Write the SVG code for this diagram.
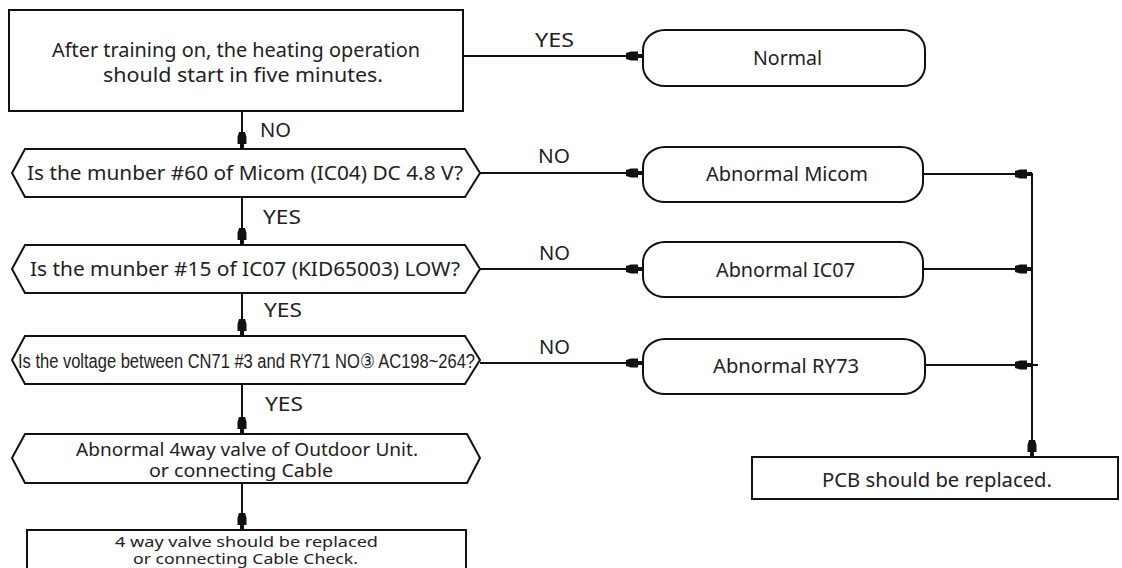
<svg xmlns="http://www.w3.org/2000/svg" width="1122" height="568" viewBox="0 0 1122 568">
<style>
.s{fill:#fff;stroke:#111;stroke-width:2}
.t{font-family:"Noto Sans","DejaVu Sans",sans-serif;font-size:19px;fill:#222}
.h{font-family:"Noto Sans","DejaVu Sans",sans-serif;font-size:18px;fill:#222}
.n{font-family:"Liberation Sans",Arial,sans-serif;font-size:20px;fill:#222}
.sm{font-family:"Noto Sans","DejaVu Sans",sans-serif;font-size:15px;fill:#222}
.c{fill:none;stroke:#111;stroke-width:2}
</style>
<defs>
<marker id="a" markerUnits="userSpaceOnUse" viewBox="-18 -6 19 12" refX="0" refY="0" markerWidth="19" markerHeight="12" orient="auto">
<path d="M-17,-3 L-12,-4.5 L-5,-4.5 L-5,-2 L0,-2 L0,2 L-5,2 L-5,4.5 L-12,4.5 L-17,3 Z" fill="#111"/>
</marker>
</defs>
<rect width="1122" height="568" fill="#fff"/>
<g id="connectors">
<line class="c" x1="242" y1="111" x2="242" y2="149" marker-end="url(#a)"/>
<line class="c" x1="463" y1="56" x2="643" y2="56" marker-end="url(#a)"/>
<line class="c" x1="480" y1="173" x2="643" y2="173" marker-end="url(#a)"/>
<line class="c" x1="242" y1="197" x2="242" y2="245" marker-end="url(#a)"/>
<line class="c" x1="480" y1="269" x2="643" y2="269" marker-end="url(#a)"/>
<line class="c" x1="242" y1="293" x2="242" y2="336" marker-end="url(#a)"/>
<line class="c" x1="480" y1="363" x2="643" y2="363" marker-end="url(#a)"/>
<line class="c" x1="242" y1="384" x2="242" y2="434" marker-end="url(#a)"/>
<line class="c" x1="242" y1="483" x2="242" y2="530" marker-end="url(#a)"/>
<line class="c" x1="923" y1="174" x2="1032" y2="174" marker-end="url(#a)"/>
<line class="c" x1="923" y1="269" x2="1032" y2="269" marker-end="url(#a)"/>
<line class="c" x1="925" y1="365" x2="1032" y2="365" marker-end="url(#a)"/>
<line class="c" x1="1032" y1="365" x2="1038" y2="365"/>
<line class="c" x1="1032" y1="173" x2="1032" y2="457" marker-end="url(#a)"/>
<text class="t" x="260" y="137" textLength="31" lengthAdjust="spacingAndGlyphs">NO</text>
<text class="t" x="535" y="47" textLength="39" lengthAdjust="spacingAndGlyphs">YES</text>
<text class="t" x="538" y="163" textLength="32" lengthAdjust="spacingAndGlyphs">NO</text>
<text class="t" x="263" y="224" textLength="38" lengthAdjust="spacingAndGlyphs">YES</text>
<text class="t" x="539" y="260" textLength="31" lengthAdjust="spacingAndGlyphs">NO</text>
<text class="t" x="264" y="317" textLength="38" lengthAdjust="spacingAndGlyphs">YES</text>
<text class="t" x="539" y="354" textLength="31" lengthAdjust="spacingAndGlyphs">NO</text>
<text class="t" x="265" y="411" textLength="38" lengthAdjust="spacingAndGlyphs">YES</text>
</g>
<g id="start">
<rect class="s" x="9" y="10" width="454" height="101"/>
<text class="t" x="52" y="57" textLength="368" lengthAdjust="spacingAndGlyphs">After training on, the heating operation</text>
<text class="t" x="103" y="82" textLength="280" lengthAdjust="spacingAndGlyphs">should start in five minutes.</text>
</g>
<g id="normal">
<rect class="s" x="643" y="30" width="282" height="56" rx="22" ry="20"/>
<text class="t" x="753" y="65" textLength="69" lengthAdjust="spacingAndGlyphs">Normal</text>
</g>
<g id="q1">
<polygon class="s" points="25,149 465,149 480,173 465,197 25,197 12,173"/>
<text class="t" x="27" y="180" textLength="436" lengthAdjust="spacingAndGlyphs">Is the munber #60 of Micom (IC04) DC 4.8 V?</text>
</g>
<g id="micom">
<rect class="s" x="643" y="147" width="280" height="55" rx="22" ry="20"/>
<text class="t" x="706" y="181" textLength="162" lengthAdjust="spacingAndGlyphs">Abnormal Micom</text>
</g>
<g id="q2">
<polygon class="s" points="25,245 465,245 480,269 465,293 25,293 12,269"/>
<text class="t" x="30" y="276" textLength="430" lengthAdjust="spacingAndGlyphs">Is the munber #15 of IC07 (KID65003) LOW?</text>
</g>
<g id="ic07">
<rect class="s" x="643" y="242" width="280" height="55" rx="22" ry="20"/>
<text class="t" x="716" y="277" textLength="139" lengthAdjust="spacingAndGlyphs">Abnormal IC07</text>
</g>
<g id="q3">
<polygon class="s" points="25,336 465,336 480,360 465,384 25,384 12,360"/>
<text class="n" x="18" y="368" textLength="457" lengthAdjust="spacingAndGlyphs">Is the voltage between CN71 #3 and RY71 NO③ AC198~264?</text>
</g>
<g id="ry73">
<rect class="s" x="643" y="339" width="282" height="55" rx="22" ry="20"/>
<text class="t" x="713" y="373" textLength="146" lengthAdjust="spacingAndGlyphs">Abnormal RY73</text>
</g>
<g id="q4">
<polygon class="s" points="25,434 467,434 480,458 467,483 25,483 12,458"/>
<text class="h" x="76" y="456" textLength="342" lengthAdjust="spacingAndGlyphs">Abnormal 4way valve of Outdoor Unit.</text>
<text class="h" x="149" y="477" textLength="184" lengthAdjust="spacingAndGlyphs">or connecting Cable</text>
</g>
<g id="valve">
<rect class="s" x="27" y="530" width="439" height="50"/>
<text class="sm" x="115" y="547" textLength="263" lengthAdjust="spacingAndGlyphs">4 way valve should be replaced</text>
<text class="sm" x="133" y="564" textLength="225" lengthAdjust="spacingAndGlyphs">or connecting Cable Check.</text>
</g>
<g id="pcb">
<rect class="s" x="752" y="457" width="366" height="42"/>
<text class="t" x="822" y="487" textLength="230" lengthAdjust="spacingAndGlyphs">PCB should be replaced.</text>
</g>
</svg>
